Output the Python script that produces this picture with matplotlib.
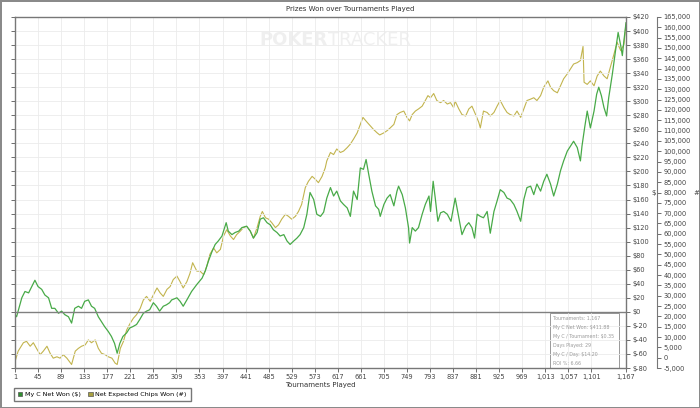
import matplotlib.pyplot as plt
from matplotlib.patches import Patch, Rectangle

# cumulative net won ($) by tournament number
won_t = [1, 4, 14, 20, 27, 33, 39, 45, 52, 58, 65, 71, 77, 84, 90, 96, 103, 109, 115, 122,
         128, 134, 141, 147, 153, 160, 166, 172, 179, 185, 191, 196, 201, 207, 214, 220, 226,
         233, 239, 246, 252, 258, 265, 271, 277, 284, 290, 296, 300, 310, 316, 322, 329, 338,
         348, 358, 364, 370, 377, 383, 389, 396, 404, 408, 415, 421, 428, 434, 443, 450, 456,
         463, 469, 475, 482, 488, 494, 501, 507, 514, 520, 526, 533, 539, 545, 552, 558, 564,
         571, 577, 584, 590, 596, 603, 609, 615, 622, 628, 635, 641, 647, 654, 660, 666, 671,
         676, 682, 689, 695, 698, 705, 711, 717, 724, 730, 733, 740, 746, 752, 754, 759, 765,
         771, 778, 784, 791, 794, 799, 803, 808, 813, 819, 826, 833, 841, 848, 854, 861, 867,
         873, 878, 883, 889, 895, 902, 908, 915, 921, 927, 934, 940, 946, 953, 959, 966, 972,
         978, 985, 991, 997, 1004, 1010, 1016, 1023, 1029, 1036, 1042, 1048, 1055, 1061, 1067,
         1074, 1080, 1083, 1088, 1093, 1099, 1106, 1111, 1115, 1120, 1125, 1130, 1134, 1141,
         1147, 1152, 1157, 1160, 1163, 1167]
won_usd = [-4, -7, 20, 29, 27, 36, 45, 36, 32, 24, 20, 5, 5, -2, 1, -4, -7, -16, 5, 8,
           5, 15, 17, 8, 5, -7, -14, -21, -28, -35, -45, -59, -45, -35, -30, -23, -21,
           -18, -11, -2, 1, 3, 13, 8, 1, 8, 10, 13, 17, 20, 15, 8, 17, 29,
           39, 48, 58, 72, 86, 96, 101, 108, 127, 115, 110, 113, 115, 120, 122, 115, 105,
           113, 132, 134, 127, 124, 117, 113, 108, 110, 101, 96, 101, 105, 110, 120, 139, 170,
           160, 139, 136, 142, 162, 177, 165, 172, 158, 153, 148, 136, 172, 160, 205, 203, 217,
           196, 172, 151, 146, 136, 153, 162, 167, 151, 172, 179, 167, 148, 120, 98, 120, 115,
           120, 139, 153, 165, 143, 186, 162, 129, 141, 143, 139, 129, 162, 134, 110, 122, 127,
           120, 105, 139, 136, 134, 143, 112, 143, 158, 174, 170, 162, 160, 153, 143, 129, 160,
           177, 179, 167, 182, 172, 186, 196, 182, 165, 182, 201, 215, 229, 236, 243,
           234, 215, 236, 262, 286, 262, 286, 310, 320, 308, 291, 279, 305, 339,
           372, 398, 379, 365, 386, 411.88]

# net expected chips won (#)
exp_t = [1, 7, 17, 23, 30, 36, 42, 49, 55, 62, 68, 74, 81, 87, 93, 100, 109, 116, 122, 128,
         135, 141, 147, 154, 160, 166, 173, 179, 186, 192, 196, 202, 208, 214, 221, 227, 233,
         240, 246, 252, 259, 265, 272, 278, 284, 291, 297, 303, 310, 316, 322, 329, 335, 340,
         348, 354, 361, 367, 373, 380, 386, 393, 399, 405, 412, 418, 424, 431, 437, 443, 450,
         456, 463, 469, 473, 479, 485, 491, 498, 504, 510, 517, 523, 529, 536, 542, 548, 555,
         561, 568, 574, 580, 587, 593, 596, 603, 609, 615, 622, 628, 635, 641, 647, 654, 660,
         665, 673, 679, 685, 692, 697, 705, 711, 717, 724, 730, 736, 743, 749, 754, 759, 765,
         771, 778, 784, 789, 794, 800, 806, 813, 819, 826, 832, 838, 841, 848, 854, 861, 867,
         873, 880, 886, 889, 895, 902, 908, 915, 921, 927, 934, 940, 946, 953, 959, 966, 972,
         978, 985, 991, 997, 1004, 1010, 1018, 1023, 1029, 1036, 1042, 1048, 1055, 1061, 1067,
         1074, 1080, 1085, 1087, 1093, 1099, 1106, 1112, 1118, 1125, 1131, 1137, 1144, 1150,
         1157, 1163, 1167]
exp_chips = [-1940, 3160, 7240, 7920, 5540, 7240, 4520, 1460, 3160, 5540, 2140, -240, 440, -240,
             1460, -240, -3300, 3160, 4520, 5540, 6220, 8600, 7240, 8600, 4520, 2140, 1460, 440,
             -240, -2620, -3300, 4520, 7920, 13360, 16760, 19140, 20840, 23900, 27980, 29680,
             27300, 30360, 33760, 31380, 29680, 33080, 34440, 37840, 39540, 36820, 33760, 36820,
             40900, 46000, 41920, 41920, 40220, 44300, 50080, 53140, 50760, 52460, 58920, 61980,
             58920, 57220, 59600, 61300, 63000, 63680, 61300, 57900, 63000, 68440, 70820, 67760,
             67080, 65380, 63000, 64360, 67080, 69460, 68440, 67080, 68440, 70820, 74220, 82380,
             85440, 87820, 86460, 84760, 87820, 91900, 95300, 99380, 98360, 101080, 99380, 100060,
             101760, 103460, 105840, 108900, 112980, 116380, 114000, 112300, 110600, 108900,
             107880, 108900, 109920, 111280, 112980, 117740, 118760, 119440, 116380, 114680,
             117740, 119440, 120460, 121820, 124540, 126920, 125900, 127940, 124540, 123520,
             124540, 122840, 123520, 121140, 124200, 120460, 117740, 117060, 120460, 121820,
             117740, 114000, 111280, 119440, 118760, 117060, 118760, 121820, 124540, 121140,
             118760, 117740, 117060, 119440, 116380, 120460, 124540, 125220, 125900, 124540,
             126920, 131000, 134060, 131000, 129300, 128280, 131680, 135080, 137460, 139840,
             142220, 142900, 143920, 150720, 133380, 132360, 134060, 131680, 136440, 138820,
             136440, 135080, 140520, 146980, 152760, 148680, 151740, 161600]

x_ticks = [1, 45, 89, 133, 177, 221, 265, 309, 353, 397, 441, 485, 529, 573, 617, 661, 705,
           749, 793, 837, 881, 925, 969, 1013, 1057, 1101, 1167]
usd_ticks = list(range(-80, 421, 20))
chip_ticks = list(range(-5000, 165001, 5000))
stats = ["Tournaments: 1,167", "My C Net Won: $411.88", "My C / Tournament: $0.35",
         "Days Played: 29", "My C / Day: $14.20", "ROI %: 6.66"]

green = '#48aa48'
olive = '#c2b44e'
gray = '#808080'

fig = plt.figure(figsize=(7, 4.08), dpi=100)
fig.patch.set_edgecolor('#8a8a8a')
fig.patch.set_linewidth(2)

ax = fig.add_axes([15 / 700, 40 / 408, 611 / 700, 351 / 408])
ax2 = ax.twinx()
ax.set_zorder(2)
ax.patch.set_visible(False)
ax2.set_zorder(1)

ax.plot(won_t, won_usd, color=green, lw=0.9)
ax2.plot(exp_t, exp_chips, color=olive, lw=0.8)
ax.axhline(0, color=gray, lw=1)

ax.set_xlim(1, 1167)
ax.set_ylim(-80, 420)
ax2.set_ylim(-5000, 165000)

ax.set_xticks(x_ticks)
ax.set_xticklabels([f"{v:,}" for v in x_ticks])
ax.set_yticks(usd_ticks)
ax.set_yticklabels([f"${v}" for v in usd_ticks])
ax.yaxis.set_ticks_position('both')
ax.tick_params(axis='y', labelleft=False, labelright=True)
ax.tick_params(labelsize=4.8, length=3, width=0.6, colors='#555555', labelcolor='#444444', pad=1.5)
ax.yaxis.set_label_position('right')
ax.set_ylabel('$', rotation=0, fontsize=5, color='#444444', labelpad=3, va='center')
ax.set_xlabel('Tournaments Played', fontsize=5, color='#333333', labelpad=1)
ax.grid(True, color='#ebebeb', lw=0.6)

ax2.set_yticks(chip_ticks)
ax2.set_yticklabels([f"{v:,}" for v in chip_ticks])
ax2.tick_params(labelsize=4.8, length=3, width=0.6, colors='#555555', labelcolor='#444444', pad=1.5)
ax2.spines['right'].set_position(('outward', 22.5))
ax2.spines['left'].set_visible(False)
ax2.spines['top'].set_visible(False)
ax2.spines['bottom'].set_visible(False)
ax2.spines['right'].set_color('#777777')
ax2.set_ylabel('#', rotation=0, fontsize=5, color='#444444', labelpad=4, va='center')

for s in ax.spines.values():
    s.set_color('#777777')
    s.set_linewidth(1)

# watermark
ax.text(0.512, 0.935, 'POKER', transform=ax.transAxes, ha='right', va='center',
        fontsize=13, fontweight='bold', color='#efefef', zorder=0)
ax.text(0.512, 0.935, 'TRACKER', transform=ax.transAxes, ha='left', va='center',
        fontsize=13, color='#efefef', zorder=0)

# stats box
ax.add_patch(Rectangle((0.876, 0.0), 0.113, 0.157, transform=ax.transAxes,
                       fill=False, edgecolor='#999999', lw=0.7))
ax.text(0.880, 0.148, "\n".join(stats), transform=ax.transAxes, ha='left', va='top',
        fontsize=3.4, color='#9a9a9a', linespacing=2.0)

fig.text(0.5, 1 - 9 / 408, 'Prizes Won over Tournaments Played', ha='center', va='center',
         fontsize=5, color='#333333')

handles = [Patch(facecolor='#2f8f2f', edgecolor='#555555', lw=0.5, label='My C Net Won ($)'),
           Patch(facecolor='#a8a040', edgecolor='#555555', lw=0.5, label='Net Expected Chips Won (#)')]
fig.legend(handles=handles, loc='lower left', bbox_to_anchor=(14 / 700, 7 / 408), ncol=2,
           fontsize=4.6, frameon=True, fancybox=False, edgecolor='#555555', borderpad=0.6,
           handlelength=0.7, handleheight=0.7, handletextpad=0.4, columnspacing=1.2,
           borderaxespad=0)

fig.savefig('out.png', dpi=100)
